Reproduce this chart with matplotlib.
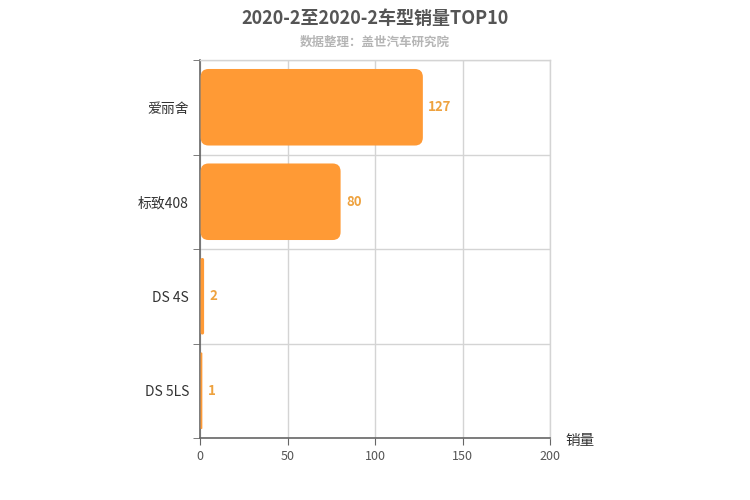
import matplotlib
matplotlib.use('Agg')
import matplotlib.pyplot as plt
from matplotlib.patches import FancyBboxPatch
import numpy as np

plt.rcParams['font.family'] = ['Noto Sans CJK SC', 'DejaVu Sans']

# Data from the chart
models = ['爱丽舍', '标致408', 'DS 4S', 'DS 5LS']
sales = [127, 80, 2, 1]

bar_color = '#ff9a35'
label_color = '#eea23f'

fig = plt.figure(figsize=(7.5, 5), dpi=100)
ax = fig.add_axes([200 / 750, 62 / 500, 350 / 750, 378 / 500])

y = np.arange(len(models))
bars = ax.barh(y, sales, height=0.81, color=bar_color)

# swap the plain bars for rounded ones
px_x = 200 / 350
px_y = 4 / 378
for b in bars:
    x0, y0 = b.get_x(), b.get_y()
    w, h = b.get_width(), b.get_height()
    r = min(8 * px_x, w / 2)
    box = FancyBboxPatch((x0 + 0.6 * px_x, y0), w, h,
                         boxstyle=f'round,pad=0,rounding_size={r}',
                         mutation_aspect=px_y / px_x,
                         facecolor=bar_color, edgecolor='none', zorder=3)
    b.set_visible(False)
    ax.add_patch(box)

for yi, v in zip(y, sales):
    ax.text(v + 6 * px_x, yi, str(v), va='center', ha='left',
            fontsize=9.5, fontweight='bold', color=label_color)

ax.set_xlim(0, 200)
ax.set_ylim(3.5, -0.5)
ax.set_xticks([0, 50, 100, 150, 200])
ax.set_yticks(y)
ax.set_yticklabels(models)
ax.set_yticks(np.arange(-0.5, 4, 1), minor=True)
ax.tick_params(axis='y', which='major', length=0, labelsize=10, colors='#333333', pad=8)
ax.tick_params(axis='y', which='minor', length=5, color='#666666')
ax.tick_params(axis='x', length=5, color='#666666', labelsize=9, labelcolor='#555555')

ax.grid(axis='x', color='#d4d4d4', linewidth=1)
ax.grid(axis='y', which='minor', color='#d4d4d4', linewidth=1)
ax.set_axisbelow(True)

for s in ['top', 'right']:
    ax.spines[s].set_color('#d4d4d4')
    ax.spines[s].set_linewidth(1)
for s in ['left', 'bottom']:
    ax.spines[s].set_color('#666666')
    ax.spines[s].set_linewidth(1.2)

fig.text(565 / 750, 1 - 441 / 500, '销量', fontsize=10.5, color='#333333',
         ha='left', va='center')

fig.text(0.5, 1 - 18 / 500, '2020-2至2020-2车型销量TOP10', ha='center', va='center',
         fontsize=13, fontweight='bold', color='#555555')
fig.text(0.5, 1 - 42 / 500, '数据整理：盖世汽车研究院', ha='center', va='center',
         fontsize=9, fontweight='bold', color='#b5b5b5')

fig.savefig('out.png', dpi=100)
